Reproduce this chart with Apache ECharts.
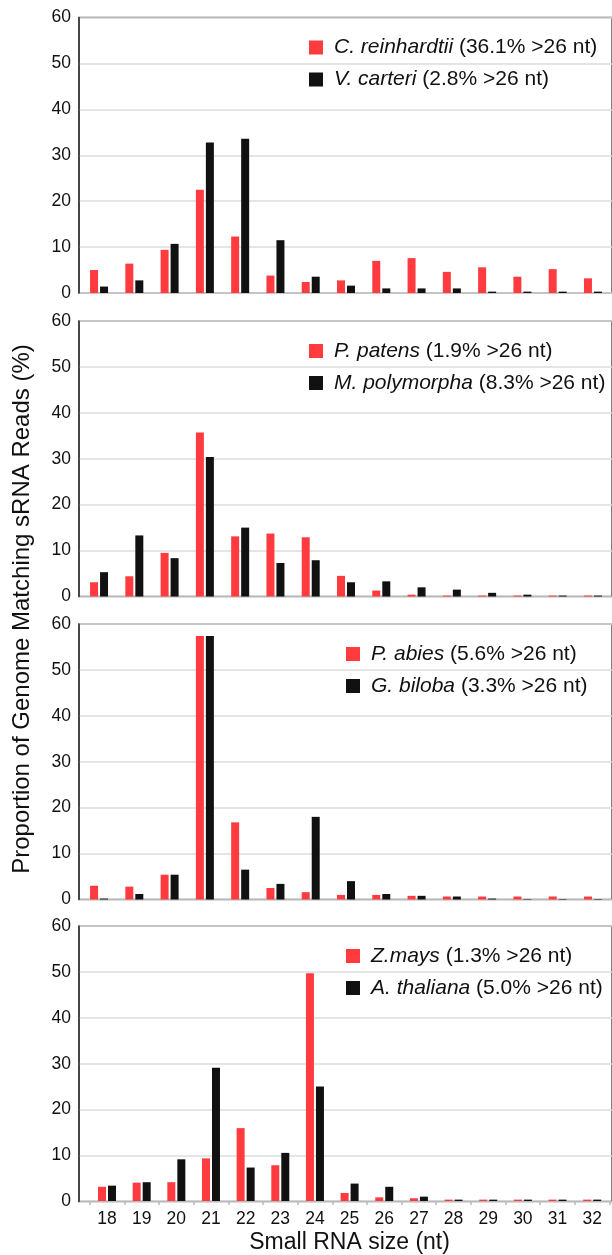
<!DOCTYPE html>
<html><head><meta charset="utf-8">
<script src="https://cdn.jsdelivr.net/npm/echarts@6/dist/echarts.min.js"></script>
<style>html,body{margin:0;padding:0;background:#fff}#c{width:612px;height:1255px}</style>
</head><body><div id="c"></div>
<script>
const categories = ['18','19','20','21','22','23','24','25','26','27','28','29','30','31','32'];
const yTicks = [0, 60, 10]; // min, max, interval

const creinhardtii = [5.0,6.4,9.4,22.5,12.3,3.8,2.4,2.75,7.0,7.6,4.6,5.6,3.55,5.2,3.2];
const vcarteri     = [1.4,2.75,10.7,32.8,33.6,11.5,3.55,1.6,1.0,1.0,1.0,0.3,0.3,0.3,0.3];
const ppatens      = [3.1,4.4,9.5,35.7,13.1,13.7,12.9,4.5,1.3,0.4,0.2,0.2,0.2,0.2,0.2];
const mpolymorpha  = [5.3,13.3,8.35,30.4,15.0,7.3,7.9,3.1,3.3,2.0,1.5,0.8,0.4,0.2,0.2];
const pabies       = [3.0,2.8,5.4,57.4,16.8,2.5,1.6,1.0,1.0,0.8,0.65,0.65,0.65,0.65,0.65];
const gbiloba      = [0.2,1.2,5.4,57.4,6.5,3.4,18.0,4.0,1.2,0.8,0.65,0.2,0.1,0.1,0.1];
const zmays        = [3.1,4.0,4.1,9.3,15.9,7.8,49.7,1.75,0.8,0.6,0.3,0.3,0.3,0.3,0.3];
const athaliana    = [3.35,4.1,9.1,29.1,7.3,10.5,25.0,3.8,3.1,0.95,0.3,0.3,0.3,0.3,0.3];

const speciesNames = ['C. reinhardtii','V. carteri','P. patens','M. polymorpha','P. abies','G. biloba','Z.mays','A. thaliana'];
const speciesPct   = ['36.1%','2.8%','1.9%','8.3%','5.6%','3.3%','1.3%','5.0%'];
const speciesData  = [creinhardtii, vcarteri, ppatens, mpolymorpha, pabies, gbiloba, zmays, athaliana];

const yTitle = 'Proportion of Genome Matching sRNA Reads (%)';
const xTitle = 'Small RNA size (nt)';

const FONT = "'Liberation Sans', Arial, Helvetica, sans-serif";
const RED = '#ff3b3f', BLACK = '#111111';

const panelTops = [17.5, 321, 624, 926];
const panelH = 275.5;
const barLeft = [81.4, 81.4, 81.4, 89.7];
const barWidthPx = [529.2, 529.2, 529.2, 519.8];
const legendLeft = [304, 304, 341, 341];

const grid = [], xAxis = [], yAxis = [], series = [], legend = [];
const pctOf = {};
speciesNames.forEach((n,i)=>pctOf[n]=speciesPct[i]);

for (let p = 0; p < 4; p++) {
  const last = p === 3;
  grid.push({left: 79, top: panelTops[p], width: 570, height: panelH, show: true,
    borderColor: '#555', borderWidth: 1.5, backgroundColor: 'transparent'});
  grid.push({left: barLeft[p], top: panelTops[p], width: barWidthPx[p], height: panelH});
  const gF = 2*p, gB = 2*p+1;
  xAxis.push({gridIndex: gF, type: 'value', show: false, min: 0, max: 1});
  xAxis.push({gridIndex: gB, type: 'category', data: categories, boundaryGap: true,
    axisLine: {show: false},
    axisTick: {show: last, interval: 0, length: 4, lineStyle: {color: '#bbb', width: 1.5}},
    axisLabel: {show: last, interval: 0, fontSize: 17.5, fontFamily: FONT, color: '#111', margin: 9},
    name: last ? xTitle : '', nameLocation: 'middle', nameGap: 30,
    nameTextStyle: {fontSize: 23, fontFamily: FONT, color: '#111'}});
  yAxis.push({gridIndex: gF, type: 'value', min: yTicks[0], max: yTicks[1], interval: yTicks[2],
    axisLine: {show: true, lineStyle: {color: '#333', width: 1.5}},
    axisTick: {show: false},
    axisLabel: {fontSize: 17.5, fontFamily: FONT, color: '#111', margin: 8},
    splitLine: {show: true, lineStyle: {color: '#dcdcdc', width: 1.5}}});
  yAxis.push({gridIndex: gB, type: 'value', min: yTicks[0], max: yTicks[1], interval: yTicks[2], show: false,
    splitLine: {show: false}});
  const n1 = speciesNames[2*p], n2 = speciesNames[2*p+1];
  series.push({name: n1, type: 'bar', xAxisIndex: gB, yAxisIndex: gB, data: speciesData[2*p],
    barWidth: 8, barGap: '25%', itemStyle: {color: RED}, animation: false});
  series.push({name: n2, type: 'bar', xAxisIndex: gB, yAxisIndex: gB, data: speciesData[2*p+1],
    barWidth: 8, barGap: '25%', itemStyle: {color: BLACK}, animation: false});
  legend.push({data: [n1, n2], orient: 'vertical', left: legendLeft[p], top: panelTops[p] + 14,
    icon: 'rect', itemWidth: 14, itemHeight: 14, itemGap: 10, selectedMode: false,
    formatter: name => '{i|' + name + '} (' + pctOf[name] + ' >26 nt)',
    textStyle: {fontSize: 21, fontFamily: FONT, color: '#111', lineHeight: 22, padding: [0,0,0,6],
      rich: {i: {fontStyle: 'italic', fontSize: 21, fontFamily: FONT, color: '#111', lineHeight: 22}}}});
}

const chart = echarts.init(document.getElementById('c'), null, {renderer: 'canvas'});
chart.setOption({
  animation: false,
  backgroundColor: '#fff',
  grid, xAxis, yAxis, series, legend,
  graphic: [{type: 'text', x: 22, y: 609, rotation: Math.PI/2,
    style: {text: yTitle, fontSize: 24, fontFamily: FONT, fill: '#111',
      align: 'center', verticalAlign: 'middle', textAlign: 'center', textVerticalAlign: 'middle'}}]
});
</script></body></html>
